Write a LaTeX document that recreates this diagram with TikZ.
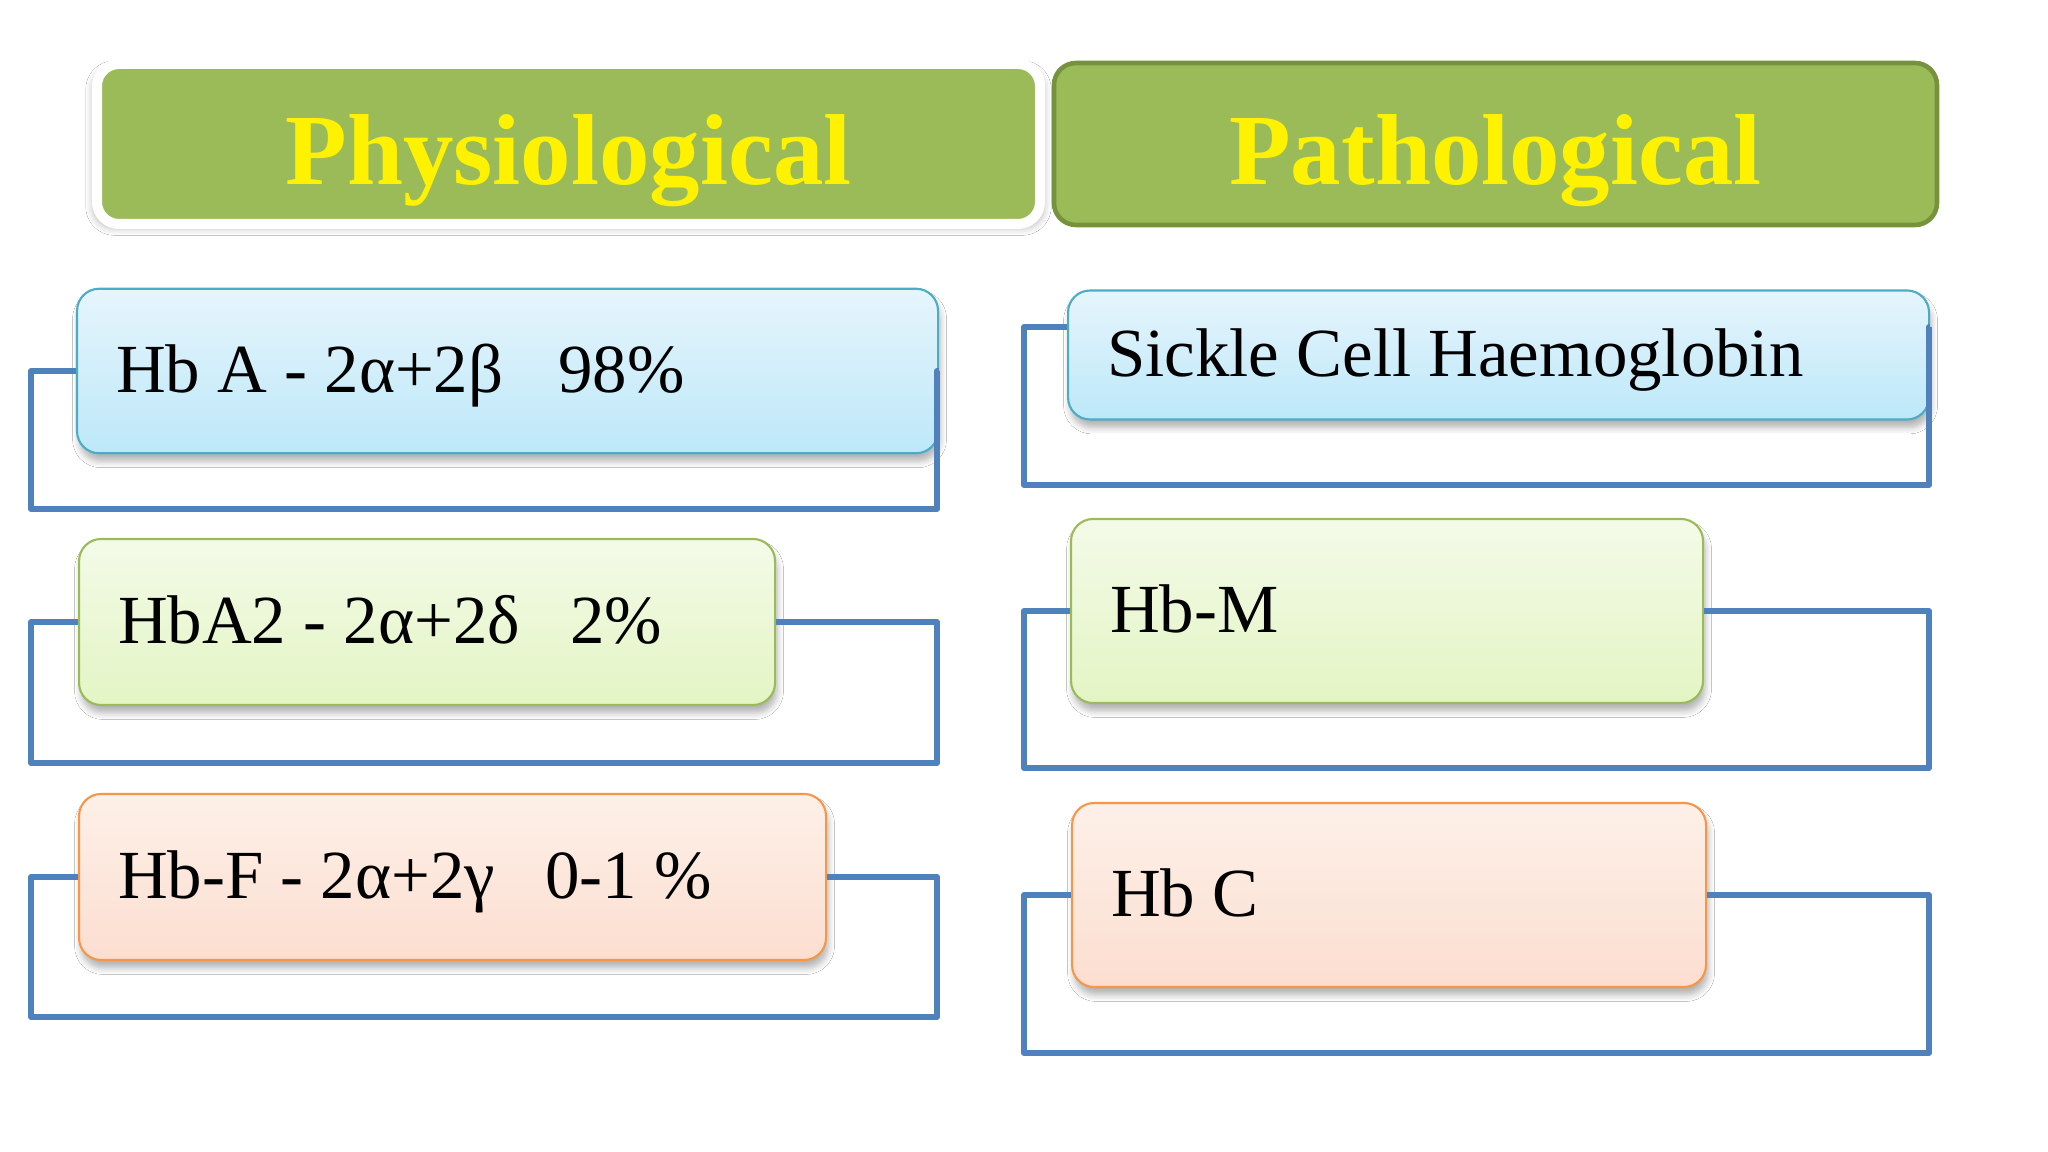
\documentclass[tikz,border=0pt]{standalone}
\usepackage{fontspec}
\setmainfont{Liberation Serif}
\usetikzlibrary{shadows.blur}

\definecolor{headgreen}{HTML}{9BBB59}
\definecolor{headedge}{HTML}{76923C}
\definecolor{brackblue}{HTML}{4F81BD}
\definecolor{blueedge}{HTML}{4BACC6}
\definecolor{bluetop}{HTML}{E6F5FC}
\definecolor{bluebot}{HTML}{BDE8F9}
\definecolor{greenedge}{HTML}{9BBB59}
\definecolor{greentop}{HTML}{F4FAE8}
\definecolor{greenbot}{HTML}{E3F5C4}
\definecolor{orangeedge}{HTML}{F79646}
\definecolor{orangetop}{HTML}{FDF0E8}
\definecolor{orangebot}{HTML}{FCDED0}

\begin{document}
\begin{tikzpicture}[
  head/.style={rounded corners=0.22cm, fill=headgreen, text=yellow,
               font=\bfseries\fontsize{28.7}{30}\selectfont,
               text height=0.82cm, text depth=0pt},
  hbbox/.style={rounded corners=0.22cm, line width=0.6pt, anchor=west,
                font=\fontsize{19.6}{22}\selectfont, align=flush left,
                inner xsep=0.39cm, text height=0.44cm, text depth=0pt,
                blur shadow={shadow xshift=0.02cm, shadow yshift=-0.08cm,
                             shadow blur steps=6, shadow opacity=30}},
  bluebox/.style={hbbox, draw=blueedge, top color=bluetop, bottom color=bluebot},
  greenbox/.style={hbbox, draw=greenedge, top color=greentop, bottom color=greenbot},
  orangebox/.style={hbbox, draw=orangeedge, top color=orangetop, bottom color=orangebot},
  bracket/.style={draw=brackblue, line width=1.7pt, line join=round}
]
\useasboundingbox[fill=white] (0,0) rectangle (20.48,11.52);

\node[head, draw=white, line width=0.1cm, minimum width=9.43cm, minimum height=1.60cm,
      blur shadow={shadow xshift=0cm, shadow yshift=-0.04cm, shadow scale=1.01,
                   shadow blur steps=5, shadow opacity=25}]
      (phys) at (5.685,10.08) {Physiological};
\node[head, draw=headedge, line width=1.3pt, minimum width=8.83cm, minimum height=1.62cm]
      (path) at (14.955,10.08) {Pathological};

\node[bluebox, text width=7.83cm, minimum height=1.645cm] (hba) at (0.76,7.81)
      {Hb A - 2α+2β\hspace{0.55cm}98\%};
\node[greenbox, text width=6.18cm, minimum height=1.66cm] (hba2) at (0.78,5.30)
      {HbA2 - 2α+2δ\hspace{0.5cm}2\%};
\node[orangebox, text width=6.69cm, minimum height=1.66cm] (hbf) at (0.78,2.75)
      {Hb-F - 2α+2γ\hspace{0.5cm}0-1 \%};

\node[bluebox, text width=7.83cm, minimum height=1.29cm] (sickle) at (10.67,7.97)
      {Sickle Cell Haemoglobin};
\node[greenbox, text width=5.54cm, minimum height=1.84cm] (hbm) at (10.70,5.41)
      {Hb-M};
\node[orangebox, text width=5.56cm, minimum height=1.84cm] (hbc) at (10.71,2.57)
      {Hb C};

\coordinate (ll) at (0.31,0);
\coordinate (rl) at (10.24,0);
\coordinate (hba-b) at (9.37,6.43);
\coordinate (hba2-b) at (9.37,3.89);
\coordinate (hbf-b) at (9.37,1.35);
\coordinate (sickle-b) at (19.29,6.67);
\coordinate (hbm-b) at (19.29,3.84);
\coordinate (hbc-b) at (19.29,0.99);

\draw[bracket] (hba.west) -| (ll |- hba-b) -- (hba-b) |- (hba.east);
\draw[bracket] (hba2.west) -| (ll |- hba2-b) -- (hba2-b) |- (hba2.east);
\draw[bracket] (hbf.west) -| (ll |- hbf-b) -- (hbf-b) |- (hbf.east);
\draw[bracket] ([yshift=0.28cm]sickle.west) -| (rl |- sickle-b) -- (sickle-b)
               |- ([yshift=0.28cm]sickle.east);
\draw[bracket] (hbm.west) -| (rl |- hbm-b) -- (hbm-b) |- (hbm.east);
\draw[bracket] (hbc.west) -| (rl |- hbc-b) -- (hbc-b) |- (hbc.east);
\end{tikzpicture}
\end{document}
